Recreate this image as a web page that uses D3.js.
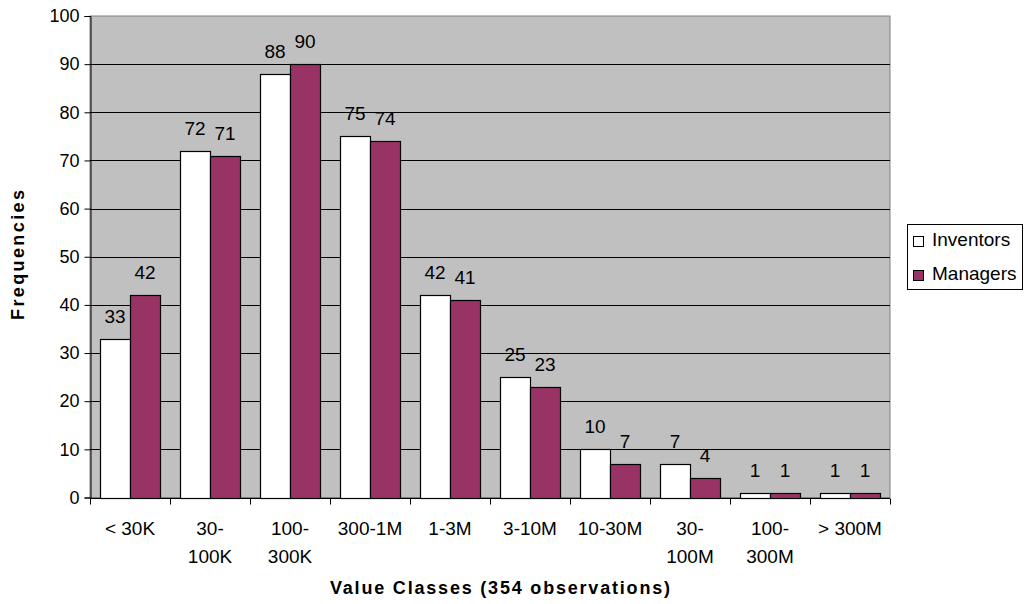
<!DOCTYPE html>
<html>
<head>
<meta charset="utf-8">
<script src="https://cdn.jsdelivr.net/npm/d3@7/dist/d3.min.js"></script>
<style>
  html, body { margin: 0; padding: 0; background: #fff; }
  svg { display: block; font-family: "Liberation Sans", Arial, sans-serif; }
</style>
</head>
<body>
<svg id="chart" width="1024" height="604"></svg>
<script>
// Value classes and frequencies per group
const categories = [["< 30K"], ["30-", "100K"], ["100-", "300K"], ["300-1M"], ["1-3M"], ["3-10M"], ["10-30M"], ["30-", "100M"], ["100-", "300M"], ["> 300M"]];
const seriesNames = ["Inventors", "Managers"];
const inventors = [33, 72, 88, 75, 42, 25, 10, 7, 1, 1];
const managers  = [42, 71, 90, 74, 41, 23, 7, 4, 1, 1];
const yTicks = [0, 10, 20, 30, 40, 50, 60, 70, 80, 90, 100];

const colors = ["#ffffff", "#993366"];
const svg = d3.select("#chart");
const plot = { left: 90, top: 16, right: 890, bottom: 497.5 };
const fontSize = 19;

const catKeys = categories.map((c, i) => i);
const x = d3.scaleBand().domain(catKeys).range([plot.left, plot.right])
  .paddingInner(0.25).paddingOuter(0.125);
const xs = d3.scaleBand().domain(seriesNames).range([0, x.bandwidth()]);
const y = d3.scaleLinear().domain([0, 100]).range([plot.bottom, plot.top]);

// plot background
svg.append("rect")
  .attr("x", plot.left).attr("y", plot.top)
  .attr("width", plot.right - plot.left).attr("height", plot.bottom - plot.top)
  .attr("fill", "#c0c0c0").attr("stroke", "#808080").attr("stroke-width", 1);

// gridlines
svg.append("g").selectAll("line").data(yTicks.filter(t => t > 0 && t < 100)).join("line")
  .attr("x1", plot.left).attr("x2", plot.right)
  .attr("y1", d => Math.round(y(d)) + 0.5).attr("y2", d => Math.round(y(d)) + 0.5)
  .attr("stroke", "#000").attr("stroke-width", 1);

// bars with value labels
const data = seriesNames.map((s, si) => ({ name: s, values: si === 0 ? inventors : managers, color: colors[si] }));
data.forEach(s => {
  const g = svg.append("g");
  g.selectAll("rect").data(s.values).join("rect")
    .attr("x", (d, i) => Math.round(x(i) + xs(s.name)) + 0.5)
    .attr("y", d => Math.round(y(d)) + 0.5)
    .attr("width", xs.bandwidth())
    .attr("height", d => Math.round(y(0)) - Math.round(y(d)))
    .attr("fill", s.color).attr("stroke", "#000").attr("stroke-width", 1.2);
  g.selectAll("text").data(s.values).join("text")
    .attr("x", (d, i) => x(i) + xs(s.name) + xs.bandwidth() / 2)
    .attr("y", d => y(d) - 16)
    .attr("text-anchor", "middle")
    .attr("font-size", fontSize).attr("fill", "#000")
    .text(d => d);
});

// y axis
const yAxis = d3.axisLeft(y).tickValues(yTicks).tickSize(6).tickPadding(5);
const gy = svg.append("g").attr("transform", `translate(${plot.left + 0.5},0)`).call(yAxis);
gy.select(".domain").attr("stroke", "#000");
gy.selectAll(".tick line").attr("stroke", "#000");
gy.selectAll(".tick text").attr("font-size", 18).attr("font-family", "Liberation Sans, Arial, sans-serif").attr("fill", "#000");

// x axis
const xTickScale = d3.scaleLinear().domain([0, categories.length]).range([plot.left, plot.right]);
const gx = svg.append("g").attr("transform", `translate(0,${Math.round(plot.bottom) + 0.5})`);
gx.append("line").attr("x1", plot.left).attr("x2", plot.right).attr("stroke", "#000");
gx.selectAll("line.tk").data(d3.range(categories.length + 1)).join("line").attr("class", "tk")
  .attr("x1", d => Math.round(xTickScale(d)) + 0.5).attr("x2", d => Math.round(xTickScale(d)) + 0.5)
  .attr("y1", 0).attr("y2", 6).attr("stroke", "#000");
const xl = gx.selectAll("text").data(categories).join("text")
  .attr("text-anchor", "middle")
  .attr("font-size", fontSize).attr("fill", "#000");
xl.each(function(lines, i) {
  const t = d3.select(this);
  lines.forEach((ln, k) => {
    t.append("tspan").attr("x", x(i) + x.bandwidth() / 2).attr("y", 36 + k * 28).text(ln);
  });
});

// axis titles
svg.append("text")
  .attr("transform", "translate(24,255) rotate(-90)")
  .attr("text-anchor", "middle").attr("font-size", 18).attr("font-weight", "bold")
  .attr("textLength", 130).attr("lengthAdjust", "spacing")
  .text("Frequencies");
svg.append("text")
  .attr("x", 500).attr("y", 594)
  .attr("text-anchor", "middle").attr("font-size", 18).attr("font-weight", "bold")
  .attr("textLength", 340).attr("lengthAdjust", "spacing")
  .text("Value Classes (354 observations)");

// legend
const lg = svg.append("g");
lg.append("rect").attr("x", 907.5).attr("y", 224.5).attr("width", 115).attr("height", 65)
  .attr("fill", "#fff").attr("stroke", "#000");
data.forEach((s, i) => {
  const cy = 242 + i * 34;
  lg.append("rect").attr("x", 913.5).attr("y", cy - 5.5).attr("width", 10).attr("height", 10)
    .attr("fill", s.color).attr("stroke", "#000");
  lg.append("text").attr("x", 932).attr("y", cy + 3.5).attr("font-size", fontSize).text(s.name);
});
</script>
</body>
</html>
